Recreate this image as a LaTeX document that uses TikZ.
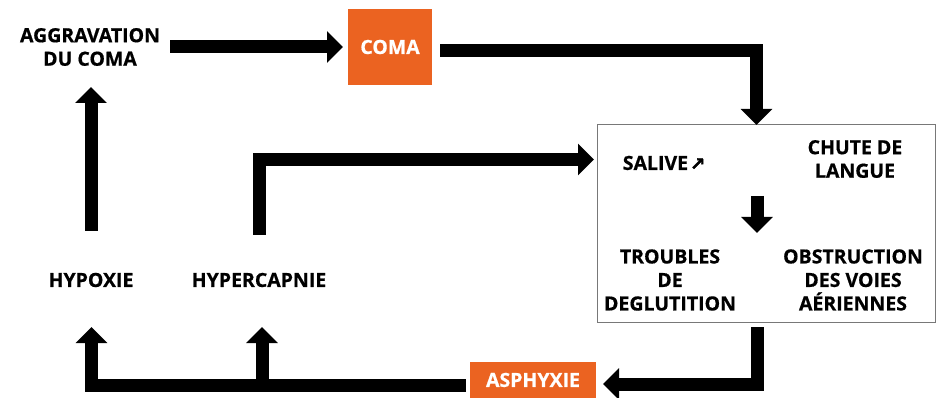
\documentclass[tikz,border=0pt]{standalone}
\usepackage{fontspec}
\setmainfont{Open Sans}[BoldFeatures={FakeBold=0.6}]
\newfontfamily\symfont{DejaVu Sans}[BoldFeatures={FakeBold=2.5}]
\usetikzlibrary{arrows.meta}
\definecolor{cmorange}{RGB}{235,99,33}
\definecolor{boxgray}{RGB}{120,120,120}
\tikzset{
  arr/.style={line width=13pt, line join=miter, line cap=butt,
    -{Triangle[width=31pt,length=16pt]}},
  lbl/.style={font=\fontsize{19.5}{23.5}\selectfont\bfseries, align=center, inner sep=0pt, text=black},
  tag/.style={fill=cmorange, text=white, font=\fontsize{19.5}{20}\selectfont\bfseries, inner sep=0pt},
}
\begin{document}
\begin{tikzpicture}[x=1pt, y=-1pt]
\useasboundingbox (0,0) rectangle (940,398);

% labels
\node[lbl] (aggr) at (90,47) {AGGRAVATION\\DU COMA};
\node[tag, minimum width=84pt, minimum height=76pt] (coma) at (390,47) {COMA};
\node[draw=boxgray, line width=1pt, minimum width=338pt, minimum height=197pt, inner sep=0pt] (box) at (766,223.5) {};
\node[lbl] (salive) at (664,163) {SALIVE\kern2pt{\symfont\fontsize{18}{18}\selectfont\bfseries ↗}};
\node[lbl] (chute) at (855,159) {CHUTE DE\\LANGUE};
\node[lbl] (troubles) at (670,280) {TROUBLES\\DE\\DEGLUTITION};
\node[lbl] (obstr) at (853,280) {OBSTRUCTION\\DES VOIES\\AÉRIENNES};
\node[lbl] (hypox) at (91,280) {HYPOXIE};
\node[lbl] (hyperc) at (259,280) {HYPERCAPNIE};
\node[tag, minimum width=126pt, minimum height=36pt] (asph) at (533,380) {ASPHYXIE};

% connector end points
\coordinate (aggrOut) at (170,47);
\coordinate (comaIn) at (343,47);
\coordinate (comaOut) at (440,51);
\coordinate (boxIn) at (756.5,125);
\coordinate (innerTop) at (757,196);
\coordinate (innerTip) at (757,233);
\coordinate (boxOut) at (757.5,327);
\coordinate (asphIn) at (603,384);
\coordinate (asphOut) at (466,385);
\coordinate (hypoxIn) at (91.5,327);
\coordinate (hypercIn) at (262,327);
\coordinate (hypoxOut) at (91,231);
\coordinate (aggrIn) at (91,87);
\coordinate (hypercOut) at (259.5,235);
\coordinate (salIn) at (594,159.5);

% connectors
\draw[arr] (aggrOut) -- (comaIn);
\draw[arr] (comaOut) -| (boxIn);
\draw[arr] (innerTop) -- (innerTip);
\draw[arr] (boxOut) |- (asphIn);
\draw[arr] (asphOut) -| (hypoxIn);
\draw[arr] (hypercIn |- asphOut) -- (hypercIn);
\draw[arr] (hypoxOut) -- (aggrIn);
\draw[arr] (hypercOut) |- (salIn);
\end{tikzpicture}
\end{document}
